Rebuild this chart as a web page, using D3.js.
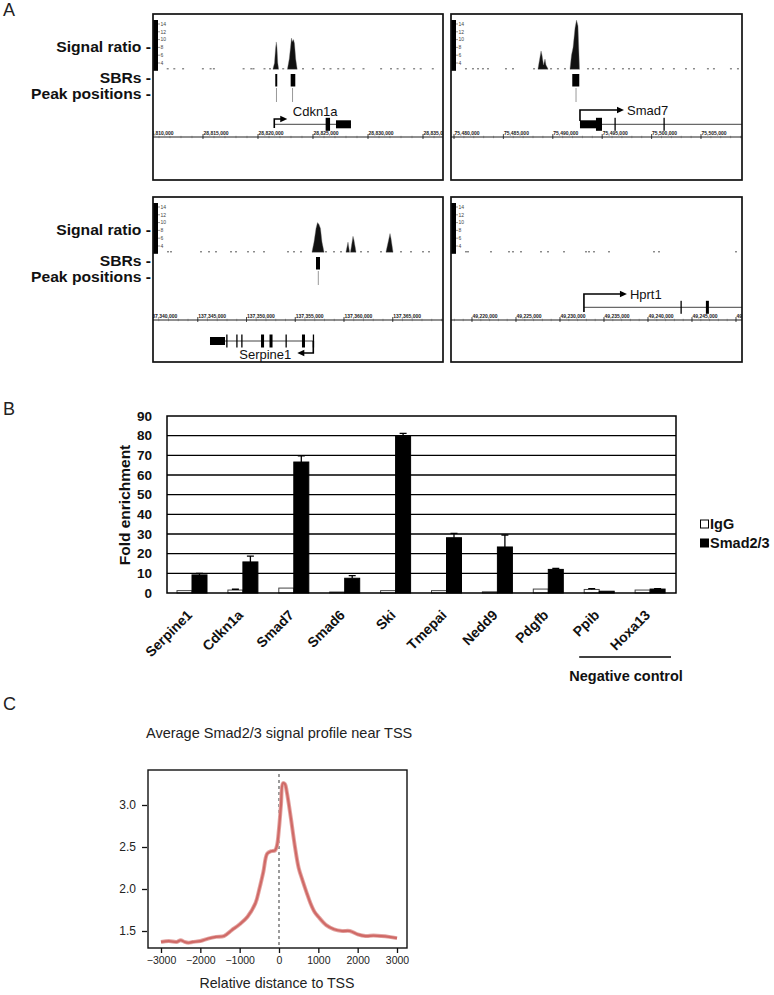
<!DOCTYPE html>
<html><head><meta charset="utf-8">
<script src="https://cdn.jsdelivr.net/npm/d3@7"></script>
<style>body{margin:0;background:#fff} svg{display:block} text{font-family:"Liberation Sans",Arial,Helvetica,sans-serif}</style>
</head><body><svg id="c" width="774" height="995"></svg>
<script>
// ================= DATA =================
// Panel A – genome browser loci (genomic positions, signal ratio values)
const sigTicks = [4, 6, 8, 10, 12, 14];

const cdkn1aView = [28810455, 28836818];
const cdkn1aTicks = [28810000, 28815000, 28820000, 28825000, 28830000, 28835000];
const cdkn1aSignal = [
  [[28821363,2.5],[28821499,4.0],[28821590,7.5],[28821663,9.4],[28821726,8.0],[28821798,4.0],[28821872,2.5]],
  [[28822680,2.5],[28822840,5.0],[28822955,8.0],[28823045,10.4],[28823136,9.5],[28823227,10.0],[28823318,9.0],[28823430,5.0],[28823560,2.5]]
];
const cdkn1aNoise = [28811700,28812300,28813100,28814900,28815600,28815900,28818600,28819300,28819500,28820500,28821000,28822200,28824000,28824900,28825900,28826500,28827200,28827700,28828600,28829500,28831100,28832000,28832600,28833200,28834100,28834700,28835800];
const cdkn1aSBR = [[28821570,28821750],[28822970,28823390]];
const cdkn1aPeakPos = [28821680, 28823140];
const cdkn1aGene = {name:"Cdkn1a", strand:"+", span:[28821480, 28828450],
  exons:[[28826150,28826550,"cds"],[28827090,28828450,"utr"]]};

const smad7View = [75479696, 75509150];
const smad7Ticks = [75480000, 75485000, 75490000, 75495000, 75500000, 75505000];
const smad7Signal = [
  [[75488500,2.5],[75488700,5.5],[75488810,7.1],[75488910,6.0],[75489060,3.5],[75489210,5.0],[75489310,3.5],[75489510,2.5]],
  [[75491740,2.5],[75491890,6.0],[75492050,8.0],[75492250,13.0],[75492400,15.0],[75492550,13.5],[75492700,2.5]]
];
const smad7Noise = [75481110,75481820,75482330,75482830,75483340,75485160,75485870,75488000,75489720,75490420,75491130,75493460,75493970,75494570,75495280,75496090,75497000,75497610,75498120,75498820,75499840,75501050,75502160,75503380,75504190,75505600,75506210,75507930,75508640];
const smad7SBR = [[75491970,75492680]];
const smad7PeakPos = [75492350];
const smad7Gene = {name:"Smad7", strand:"+", span:[75492751, 75520000],
  exons:[[75492751,75494978,"utr"],[75494370,75494978,"cds"],[75496240,75496340,"cds"],[75501200,75501300,"cds"]]};

const serpine1View = [137340410, 137370154];
const serpine1Ticks = [137340000, 137345000, 137350000, 137355000, 137360000, 137365000];
const serpine1Signal = [
  [[137356718,2.5],[137356923,5.0],[137357128,8.5],[137357282,10.0],[137357436,9.5],[137357590,8.5],[137357744,5.0],[137357949,2.5]],
  [[137360205,2.5],[137360410,5.0],[137360564,2.5]],
  [[137360667,2.5],[137360923,6.5],[137361026,5.5],[137361231,2.5]],
  [[137364308,2.5],[137364615,6.0],[137364718,7.2],[137364820,6.0],[137365026,2.5]]
];
const serpine1Noise = [137341846,137342154,137345231,137346051,137346769,137348308,137348821,137350051,137350667,137351692,137354154,137354769,137355487,137358051,137358872,137359590,137361641,137362359,137363692,137365744,137366769,137368000,137368615];
const serpine1SBR = [[137357128,137357538]];
const serpine1PeakPos = [137357364];
const serpine1Gene = {name:"Serpine1", strand:"-", span:[137346256, 137356851],
  exons:[[137346256,137347795,"utr"],[137347920,137348020,"cds"],[137348950,137349050,"cds"],[137349460,137349560,"cds"],[137351490,137351800,"cds"],[137352360,137352670,"cds"],[137354000,137354100,"cds"],[137355690,137356000,"cds"],[137356800,137356900,"cds"]]};

const hprt1View = [49217614, 49250682];
const hprt1Ticks = [49220000, 49225000, 49230000, 49235000, 49240000, 49245000, 49250000];
const hprt1Signal = [];
const hprt1Noise = [49219205,49219432,49222045,49224091,49224545,49225455,49227727,49228523,49230341,49232841,49233182,49233750,49235455,49240568,49241136,49249886];
const hprt1SBR = [];
const hprt1PeakPos = [];
const hprt1Gene = {name:"Hprt1", strand:"+", span:[49232720, 49260000],
  exons:[[49243690,49243790,"cds"],[49246580,49246920,"cds"]]};

// Panel B – ChIP-qPCR fold enrichment
const categories = ["Serpine1","Cdkn1a","Smad7","Smad6","Ski","Tmepai","Nedd9","Pdgfb","Ppib","Hoxa13"];
const seriesNames = ["IgG","Smad2/3"];
const iggValues  = [1.2, 1.5, 2.5, 0.5, 1.2, 1.2, 0.6, 2.0, 1.8, 1.5];
const iggErr     = [0.0, 0.4, 0.0, 0.0, 0.0, 0.0, 0.0, 0.0, 0.4, 0.0];
const smadValues = [9.2, 15.8, 66.6, 7.5, 79.8, 28.1, 23.4, 12.0, 0.9, 2.0];
const smadErr    = [0.8, 3.0, 3.1, 1.3, 1.4, 2.2, 6.1, 0.5, 0.0, 0.2];
const yTicksB = [0,10,20,30,40,50,60,70,80,90];

// Panel C – average profile near TSS
const tssDist = [-3000,-2800,-2600,-2500,-2400,-2300,-2200,-2000,-1800,-1600,-1400,-1200,-1000,-800,-600,-500,-400,-300,-200,-100,-50,0,50,100,150,200,300,400,500,600,700,800,900,1000,1200,1400,1600,1800,2000,2200,2400,2600,2800,3000];
const tssSignal = [1.37,1.38,1.37,1.39,1.37,1.36,1.37,1.38,1.41,1.43,1.44,1.51,1.58,1.67,1.83,2.0,2.2,2.42,2.45,2.46,2.52,2.72,3.0,3.26,3.25,3.15,2.85,2.52,2.25,2.1,1.96,1.83,1.73,1.67,1.57,1.52,1.5,1.5,1.46,1.44,1.445,1.44,1.43,1.415];
const xTicksC = [-3000,-2000,-1000,0,1000,2000,3000];
const yTicksC = [1.5,2.0,2.5,3.0];

// ================= DRAW =================
const svg = d3.select("#c");
const defs = svg.append("defs");
const fmtComma = d3.format(",");

function panelLetter(t, x, y){
  svg.append("text").attr("x",x).attr("y",y).attr("font-size",18).attr("fill","#222").text(t);
}
panelLetter("A", 3, 16);
panelLetter("B", 3, 415);
panelLetter("C", 3, 710);

const loci = [
  {id:"l1", box:[153,14,443,180], view:cdkn1aView, ticks:cdkn1aTicks, signal:cdkn1aSignal, noise:cdkn1aNoise, sbr:cdkn1aSBR, peaks:cdkn1aPeakPos, gene:cdkn1aGene,
   geneY:124.3, arrow:{from:128, to:119, len:13}, label:{dx:5.5, y:116, anchor:"start"}},
  {id:"l2", box:[451,14,742,180], view:smad7View, ticks:smad7Ticks, signal:smad7Signal, noise:smad7Noise, sbr:smad7SBR, peaks:smad7PeakPos, gene:smad7Gene,
   geneY:124.3, arrow:{from:121, to:110, len:44}, label:{dx:3, y:115, anchor:"start"}},
  {id:"l3", box:[153,197,443,362], view:serpine1View, ticks:serpine1Ticks, signal:serpine1Signal, noise:serpine1Noise, sbr:serpine1SBR, peaks:serpine1PeakPos, gene:serpine1Gene,
   geneY:341, arrow:{from:341, to:353, len:16}, label:{dx:-6, y:359, anchor:"end"}},
  {id:"l4", box:[451,197,742,362], view:hprt1View, ticks:hprt1Ticks, signal:hprt1Signal, noise:hprt1Noise, sbr:hprt1SBR, peaks:hprt1PeakPos, gene:hprt1Gene,
   geneY:307.3, arrow:{from:312, to:294, len:43}, label:{dx:3, y:299, anchor:"start"}}
];

loci.forEach(L => {
  const [x0,y0,x1,y1] = L.box;
  defs.append("clipPath").attr("id","clip-"+L.id).append("rect").attr("x",x0).attr("y",y0).attr("width",x1-x0).attr("height",y1-y0);
  const g = svg.append("g").attr("clip-path","url(#clip-"+L.id+")");
  const x = d3.scaleLinear().domain(L.view).range([x0,x1]);
  const ys = d3.scaleLinear().domain([2,15]).range([y0+56.8, y0+6.1]);
  const base = ys(2.5);

  g.append("rect").attr("x",x0).attr("y",y0+6).attr("width",5).attr("height",50.8).attr("fill","#000");
  sigTicks.forEach(v => {
    g.append("line").attr("x1",x0+5).attr("x2",x0+7).attr("y1",ys(v)).attr("y2",ys(v)).attr("stroke","#555").attr("stroke-width",0.6);
    g.append("text").attr("x",x0+7.5).attr("y",ys(v)+1.8).attr("font-size",5).attr("fill","#444").text(v);
  });
  g.selectAll(null).data(L.noise).join("rect")
    .attr("x",d=>x(d)).attr("y",base-0.6).attr("width",2).attr("height",1.1).attr("fill","#666");
  const area = d3.area().x(d=>x(d[0])).y0(base+0.5).y1(d=>ys(d[1]));
  g.selectAll(null).data(L.signal).join("path").attr("d",area).attr("fill","#111").attr("stroke","#777").attr("stroke-width",0.4);
  g.selectAll(null).data(L.sbr).join("rect")
    .attr("x",d=>x(d[0])).attr("y",y0+60).attr("width",d=>Math.max(1.6,x(d[1])-x(d[0]))).attr("height",12.5).attr("fill","#000");
  g.selectAll(null).data(L.peaks).join("line")
    .attr("x1",d=>x(d)).attr("x2",d=>x(d)).attr("y1",y0+74).attr("y2",y0+88).attr("stroke","#999").attr("stroke-width",1);

  const ay = y0+123;
  g.append("line").attr("x1",x0).attr("x2",x1).attr("y1",ay).attr("y2",ay).attr("stroke","#222").attr("stroke-width",1.1);
  const minor = d3.range(Math.ceil(L.view[0]/1000)*1000, L.view[1], 1000);
  g.selectAll(null).data(minor).join("line").attr("x1",d=>x(d)).attr("x2",d=>x(d)).attr("y1",ay-1.2).attr("y2",ay+1.2).attr("stroke","#555").attr("stroke-width",0.5);
  g.selectAll(null).data(L.ticks).join("line").attr("x1",d=>x(d)).attr("x2",d=>x(d)).attr("y1",ay-3).attr("y2",ay+2).attr("stroke","#222").attr("stroke-width",0.8);
  g.selectAll(null).data(L.ticks).join("text").attr("x",d=>x(d)+0.5).attr("y",ay-2).attr("font-size",5).attr("fill","#222").attr("font-weight","bold").text(d=>fmtComma(d));

  const G = L.gene, gy = L.geneY;
  g.append("line").attr("x1",x(G.span[0])).attr("x2",x(G.span[1])).attr("y1",gy).attr("y2",gy).attr("stroke","#444").attr("stroke-width",1);
  g.selectAll(null).data(G.exons).join("rect")
    .attr("x",d=>x(d[0])).attr("width",d=>Math.max(1.3,x(d[1])-x(d[0])))
    .attr("y",d=>gy-(d[2]==="cds"?6.5:4)).attr("height",d=>d[2]==="cds"?13:8).attr("fill","#000");
  const tss = G.strand==="+" ? G.span[0] : G.span[1];
  const tx = x(tss), dir = G.strand==="+" ? 1 : -1;
  const tip = tx + dir*L.arrow.len;
  g.append("path").attr("d",`M${tx},${L.arrow.from}L${tx},${L.arrow.to}L${tip-dir*5},${L.arrow.to}`)
    .attr("fill","none").attr("stroke","#000").attr("stroke-width",1.6);
  g.append("path").attr("d",`M${tip},${L.arrow.to}L${tip-dir*7},${L.arrow.to-3.2}L${tip-dir*7},${L.arrow.to+3.2}Z`).attr("fill","#000");
  g.append("text").attr("x",tip+L.label.dx).attr("y",L.label.y).attr("text-anchor",L.label.anchor)
    .attr("font-size",13).attr("fill","#111").text(G.name);

  svg.append("rect").attr("x",x0).attr("y",y0).attr("width",x1-x0).attr("height",y1-y0)
    .attr("fill","none").attr("stroke","#111").attr("stroke-width",1.7);
});

// track labels (slightly wide bold face, as in the figure)
[14,197].forEach(top => {
  [["Signal ratio -",37.5],["SBRs -",68.5],["Peak positions -",85]].forEach(([t,dy]) => {
    svg.append("text").attr("transform",`translate(151,${top+dy}) scale(1.08,1)`).attr("text-anchor","end")
      .attr("font-size",14.5).attr("font-weight","bold").attr("fill","#111").text(t);
  });
});

// ---------- Panel B ----------
const bL=167, bR=676, bT=416, bB=593;
const xb = d3.scaleBand().domain(categories).range([bL,bR]);
const xs = d3.scaleBand().domain(seriesNames).range([10,40]);
const yb = d3.scaleLinear().domain([0,90]).range([bB,bT]);
const gB = svg.append("g");
gB.selectAll(null).data(yTicksB.filter(v=>v>0 && v<90)).join("line")
  .attr("x1",bL).attr("x2",bR).attr("y1",d=>yb(d)).attr("y2",d=>yb(d)).attr("stroke","#000").attr("stroke-width",1.3);
const yAxisB = d3.axisLeft(yb).tickValues(yTicksB).tickSize(0).tickPadding(15);
const ga = gB.append("g").attr("transform",`translate(${bL},0)`).call(yAxisB);
ga.select(".domain").remove();
ga.selectAll("text").attr("font-size",13.5).attr("font-weight","bold").attr("fill","#111").attr("font-family",'"Liberation Sans",Arial,sans-serif');

const barData = [];
categories.forEach((c,i) => {
  barData.push({c, s:"IgG", v:iggValues[i], e:iggErr[i]});
  barData.push({c, s:"Smad2/3", v:smadValues[i], e:smadErr[i]});
});
gB.selectAll(null).data(barData).join("rect")
  .attr("x",d=>xb(d.c)+xs(d.s)).attr("width",xs.bandwidth())
  .attr("y",d=>yb(d.v)).attr("height",d=>yb(0)-yb(d.v))
  .attr("fill",d=>d.s==="IgG"?"#fff":"#000").attr("stroke",d=>d.s==="IgG"?"#444":"#000").attr("stroke-width",1);
const errData = barData.filter(d=>d.e>0);
gB.selectAll(null).data(errData).join("path")
  .attr("d",d=>{const cx=xb(d.c)+xs(d.s)+xs.bandwidth()/2, y1=yb(d.v), y2=yb(d.v+d.e);
    return `M${cx},${y1}L${cx},${y2}M${cx-3.5},${y2}L${cx+3.5},${y2}`;})
  .attr("stroke","#000").attr("stroke-width",1.3).attr("fill","none");
gB.append("rect").attr("x",bL).attr("y",bT).attr("width",bR-bL).attr("height",bB-bT)
  .attr("fill","none").attr("stroke","#000").attr("stroke-width",1.5);
gB.selectAll(null).data(categories).join("text")
  .attr("transform",d=>`translate(${xb(d)+26},616) rotate(-45)`)
  .attr("text-anchor","end").attr("font-size",14).attr("font-weight","bold").attr("fill","#111").text(d=>d);
gB.append("text").attr("transform",`translate(130,505) rotate(-90)`).attr("text-anchor","middle")
  .attr("font-size",15.5).attr("font-weight","bold").attr("fill","#111").text("Fold enrichment");
const ncL = xb("Ppib")+5, ncR = xb("Hoxa13")+xb.bandwidth()-5;
gB.append("line").attr("x1",ncL).attr("x2",ncR).attr("y1",657).attr("y2",657).attr("stroke","#000").attr("stroke-width",1.5);
gB.append("text").attr("x",(ncL+ncR)/2+1).attr("y",681).attr("text-anchor","middle").attr("font-size",14.5).attr("font-weight","bold").attr("fill","#111").text("Negative control");
seriesNames.forEach((s,i) => {
  const ly = 520 + i*19;
  gB.append("rect").attr("x",700.5).attr("y",ly).attr("width",8).attr("height",8)
    .attr("fill",i===0?"#fff":"#000").attr("stroke","#000").attr("stroke-width",1);
  gB.append("text").attr("x",710).attr("y",ly+8.5).attr("font-size",14.5).attr("font-weight","bold").attr("fill","#111").text(s);
});

// ---------- Panel C ----------
const cL=148, cR=407, cT=770, cB=948;
const xc = d3.scaleLinear().domain([-3000,3000]).range([161,397]);
const yc = d3.scaleLinear().domain([1.5,3.0]).range([931,805]);
const gC = svg.append("g");
gC.append("text").attr("x",146).attr("y",738).attr("font-size",14.5).attr("fill","#222").text("Average Smad2/3 signal profile near TSS");
gC.append("line").attr("x1",xc(0)).attr("x2",xc(0)).attr("y1",cT+4).attr("y2",cB-2)
  .attr("stroke","#666").attr("stroke-width",1.3).attr("stroke-dasharray","3,3");
const lineC = d3.line().x((d,i)=>xc(tssDist[i])).y(d=>yc(d)).curve(d3.curveCatmullRom);
gC.append("path").attr("d",lineC(tssSignal)).attr("fill","none").attr("stroke","#e3a5a2").attr("stroke-width",4).attr("stroke-linejoin","round");
gC.append("path").attr("d",lineC(tssSignal)).attr("fill","none").attr("stroke","#d06a67").attr("stroke-width",2.2).attr("stroke-linejoin","round");
gC.append("rect").attr("x",cL).attr("y",cT).attr("width",cR-cL).attr("height",cB-cT).attr("fill","none").attr("stroke","#111").attr("stroke-width",1.4);
const axL = gC.append("g").attr("transform",`translate(${cL-1},0)`).call(d3.axisLeft(yc).tickValues(yTicksC).tickFormat(d3.format(".1f")).tickSize(5).tickPadding(6));
axL.select(".domain").remove();
axL.selectAll("text").attr("font-size",12).attr("fill","#222").attr("font-family",'"Liberation Sans",Arial,sans-serif');
axL.selectAll("line").attr("stroke","#111").attr("stroke-width",1.3);
const axB = gC.append("g").attr("transform",`translate(0,${cB})`).call(d3.axisBottom(xc).tickValues(xTicksC).tickFormat(d3.format("d")).tickSize(5).tickPadding(4));
axB.select(".domain").remove();
axB.selectAll("text").attr("font-size",10.5).attr("fill","#222").attr("font-family",'"Liberation Sans",Arial,sans-serif');
axB.selectAll("line").attr("stroke","#111").attr("stroke-width",1.3);
gC.append("text").attr("x",xc(0)-2).attr("y",988).attr("text-anchor","middle").attr("font-size",14.2).attr("fill","#222").text("Relative distance to TSS");
</script></body></html>
